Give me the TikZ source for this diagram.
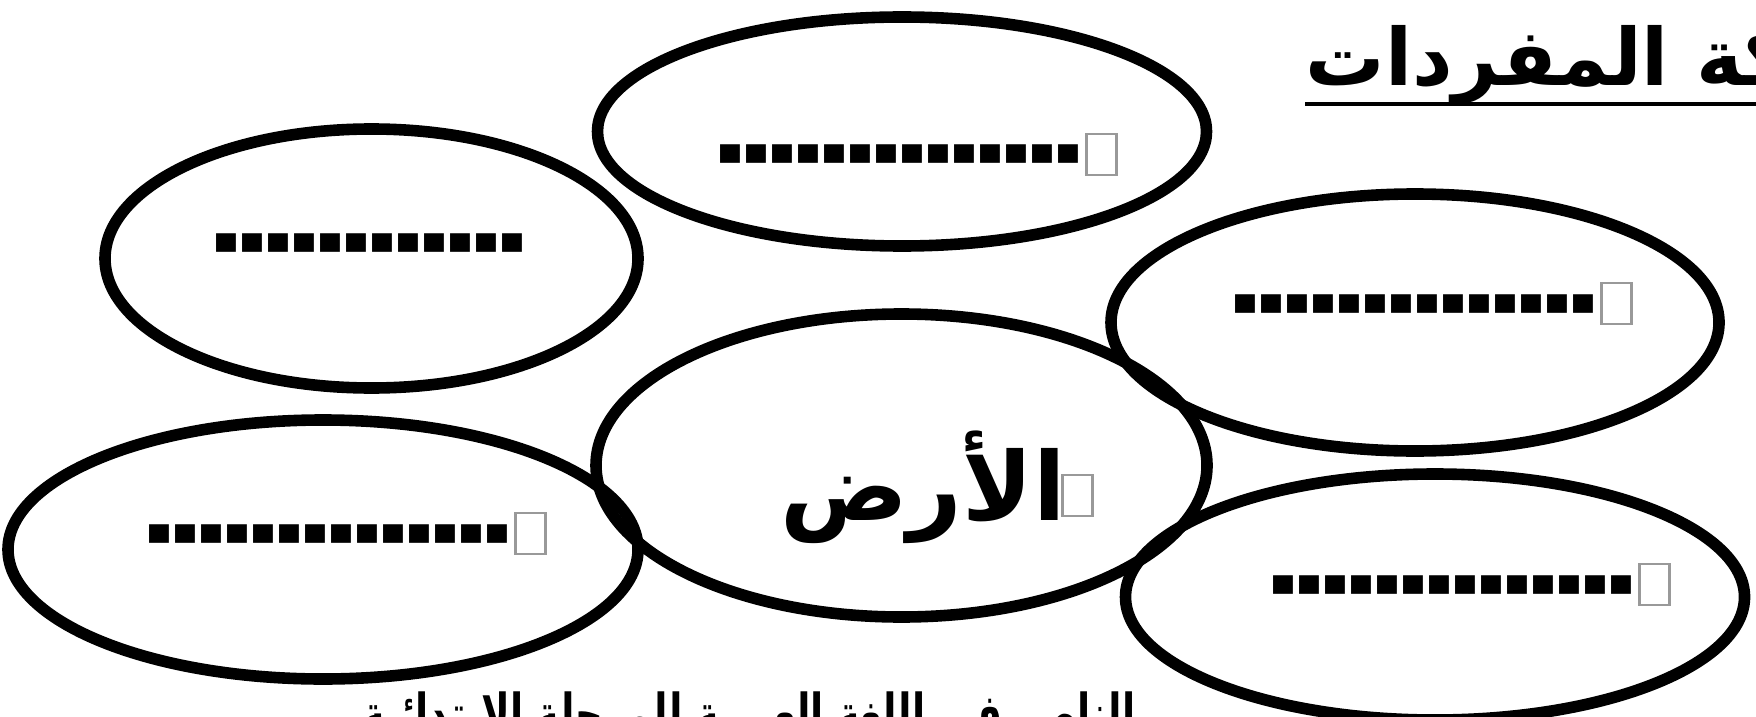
\documentclass[tikz,border=0pt]{standalone}
\usepackage{fontspec}
\setmainfont{Liberation Sans}
\newfontfamily\dashfont{Liberation Sans}
\newfontfamily\arabicfont[Script=Arabic]{DejaVu Sans}
\TeXXeTstate=1
\usetikzlibrary{shapes.geometric,positioning}

\newcommand{\dashrow}[1]{\foreach \k in {1,...,#1}{\scalebox{1}[2]{-}}}

\tikzset{
  bubble/.style={draw, ellipse, line width=3.3pt, inner sep=0pt},
  blank/.style={font=\dashfont\bfseries\fontsize{22.2}{26}\selectfont, inner sep=0pt, anchor=base west},
  tofu/.style={draw=black!40, line width=0.7pt, minimum width=0.30cm, minimum height=0.41cm, inner sep=0pt},
}

\begin{document}
\begin{tikzpicture}
        \useasboundingbox (0,0) rectangle (17.56,-7.16);
        % bubbles
        \node[bubble, minimum width=6.09cm, minimum height=2.29cm] (eTop) at (9.02,-1.315) {};
        \node[bubble, minimum width=5.33cm, minimum height=2.59cm] (eUpLeft) at (3.715,-2.585) {};
        \node[bubble, minimum width=6.08cm, minimum height=2.57cm] (eRight) at (14.15,-3.225) {};
        \node[bubble, minimum width=6.11cm, minimum height=3.03cm] (eCentre) at (9.015,-4.655) {};
        \node[bubble, minimum width=6.30cm, minimum height=2.59cm] (eLowLeft) at (3.23,-5.495) {};
        \node[bubble, minimum width=6.19cm, minimum height=2.46cm] (eLowRight) at (14.35,-5.97) {};
        % blanks to fill in
        \node[blank] (bTop) at (7.17,-1.95) {\dashrow{14}};
        \node[blank] (bUpLeft) at (2.13,-2.83) {\dashrow{12}};
        \node[blank] (bRight) at (12.32,-3.44) {\dashrow{14}};
        \node[blank] (bLowLeft) at (1.46,-5.74) {\dashrow{14}};
        \node[blank] (bLowRight) at (12.70,-6.25) {\dashrow{14}};
        \node[tofu, anchor=west] (tTop) at ([xshift=0.03cm,yshift=-0.10cm]bTop.north east) {};
        \node[tofu, anchor=west] (tRight) at ([xshift=0.03cm,yshift=-0.10cm]bRight.north east) {};
        \node[tofu, anchor=west] (tLowLeft) at ([xshift=0.03cm,yshift=-0.10cm]bLowLeft.north east) {};
        \node[tofu, anchor=west] (tLowRight) at ([xshift=0.03cm,yshift=-0.10cm]bLowRight.north east) {};
        % centre word
        \node[anchor=base, inner sep=0pt] (wEarth) at (9.23,-5.20)
            {\arabicfont\bfseries\fontsize{27}{30}\selectfont\beginR الأرض\endR};
        \node[tofu, anchor=south west] (tEarth) at ([xshift=-0.05cm,yshift=0.03cm]wEarth.base east) {};
        % title and footer
        \node[anchor=base west, inner sep=0pt] (tTitle) at (13.05,-0.86)
            {\arabicfont\bfseries\fontsize{22.5}{26}\selectfont\beginR شبكة المفردات\endR};
        \draw[line width=1.1pt] ([yshift=-0.18cm]tTitle.base west) -- ([yshift=-0.18cm]tTitle.base east);
        \node[anchor=base, inner sep=0pt] (tFooter) at (7.49,-7.34)
            {\arabicfont\bfseries\fontsize{16}{19}\selectfont\scalebox{0.685}[1]{\beginR الناصر في اللغة العربية للمرحلة الابتدائية\endR}};
      \end{tikzpicture}
\end{document}
